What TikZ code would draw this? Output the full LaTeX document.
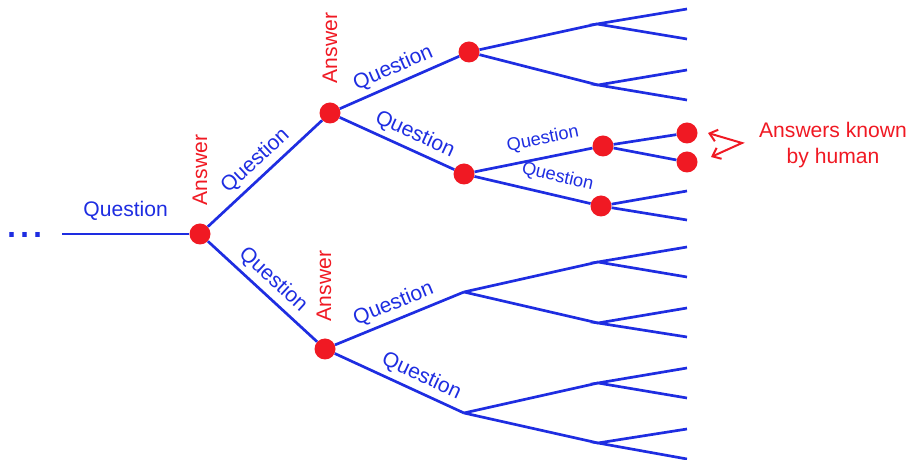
\documentclass[tikz,border=0pt]{standalone}
\usepackage{fontspec}
\setmainfont{Liberation Sans}
\usetikzlibrary{arrows.meta}
\definecolor{qblue}{RGB}{30,45,225}
\definecolor{ared}{RGB}{240,25,35}
\tikzset{
  dot/.style={circle,fill=ared,inner sep=0pt,minimum size=0.63cm},
  branch/.style={draw=qblue,line width=2.3pt},
  qlabel/.style={text=qblue,font=\fontsize{18}{20}\selectfont,sloped,inner sep=0pt,above=4pt},
  qsmall/.style={qlabel,font=\fontsize{15.5}{17}\selectfont,above=3.5pt},
  answer/.style={text=ared,font=\fontsize{18}{20}\selectfont,rotate=90},
  pointer/.style={draw=ared,line width=1.7pt,{Straight Barb[length=2.2mm,width=3.6mm]}-{Straight Barb[length=2.2mm,width=3.6mm]}}
}
\begin{document}
\begin{tikzpicture}[x=0.03cm,y=-0.03cm]
  \useasboundingbox (0,0) rectangle (912,460);

  % trunk
  \node[text=qblue,font=\fontsize{40}{40}\selectfont] (dots) at (25,235) {...};
  \coordinate (start) at (62,234);
  \node[dot] (a1) at (200,234) {};
  \node[answer] (ans1) at (200,170) {Answer};
  \draw[branch] (start) -- node[qlabel,above=6.5pt] {Question} (a1);

  % first level
  \node[dot] (a2) at (330,113) {};
  \node[dot] (b2) at (325,349) {};
  \node[answer] (ans2) at (330,48) {Answer};
  \node[answer] (ans3) at (324,286) {Answer};
  \draw[branch] (a1) -- node[qlabel,pos=0.51] {Question} (a2);
  \draw[branch] (a1) -- node[qlabel,pos=0.5] {Question} (b2);

  % upper half
  \node[dot] (a3) at (469,52) {};
  \node[dot] (a4) at (464,174) {};
  \draw[branch] (a2) -- node[qlabel] {Question} (a3);
  \draw[branch] (a2) -- node[qlabel,pos=0.6] {Question} (a4);

  \coordinate (j1) at (597,24);
  \coordinate (j2) at (598,85);
  \coordinate (l1) at (687,9);
  \coordinate (l2) at (687,39);
  \coordinate (l3) at (687,70);
  \coordinate (l4) at (687,100);
  \draw[branch] (a3) -- (j1) (a3) -- (j2);
  \draw[branch] (l1) -- (j1) -- (l2) (l3) -- (j2) -- (l4);

  \node[dot] (a5) at (603,146) {};
  \node[dot] (a6) at (601,206) {};
  \draw[branch] (a4) -- node[qsmall,pos=0.61] {Question} (a5);
  \draw[branch] (a4) -- node[qsmall,pos=0.68] {Question} (a6);

  \node[dot] (d1) at (687,133) {};
  \node[dot] (d2) at (687,162) {};
  \coordinate (l5) at (687,191);
  \coordinate (l6) at (687,220);
  \draw[branch] (a5) -- (d1) (a5) -- (d2);
  \draw[branch] (a6) -- (l5) (a6) -- (l6);

  % lower half
  \coordinate (b3) at (464,292);
  \coordinate (b4) at (464,413);
  \draw[branch] (b2) -- node[qlabel] {Question} (b3);
  \draw[branch] (b2) -- node[qlabel,pos=0.62] {Question} (b4);

  \coordinate (j3) at (598,262);
  \coordinate (j4) at (598,323);
  \coordinate (j5) at (598,383);
  \coordinate (j6) at (598,443);
  \draw[branch] (b3) -- (j3) (b3) -- (j4) (b4) -- (j5) (b4) -- (j6);

  \coordinate (l7) at (687,247);
  \coordinate (l8) at (687,277);
  \coordinate (l9) at (687,308);
  \coordinate (l10) at (687,337);
  \coordinate (l11) at (687,368);
  \coordinate (l12) at (687,398);
  \coordinate (l13) at (687,429);
  \coordinate (l14) at (687,459);
  \draw[branch] (l7) -- (j3) -- (l8) (l9) -- (j4) -- (l10);
  \draw[branch] (l11) -- (j5) -- (l12) (l13) -- (j6) -- (l14);

  % known answers
  \node[align=center,text=ared,font=\fontsize{18}{22}\selectfont] (known) at (833,145) {Answers known\\by human};
  \coordinate (vtx) at (742,143);
  \coordinate (tip1) at (708,133);
  \coordinate (tip2) at (711,157);
  \draw[pointer] (tip1) -- (vtx) -- (tip2);
\end{tikzpicture}
\end{document}
